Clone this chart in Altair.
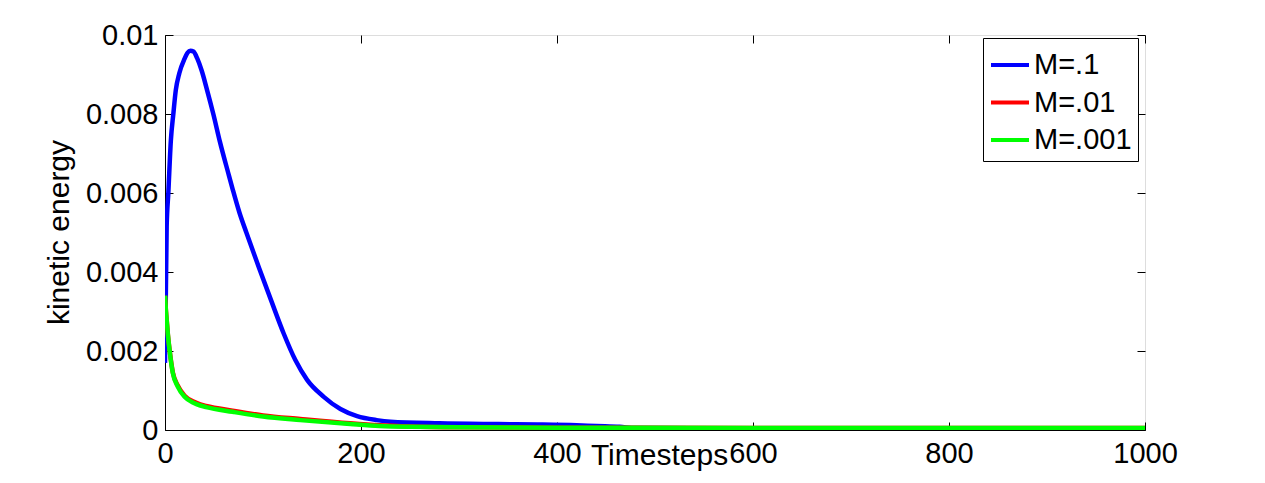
import altair as alt
import pandas as pd

# ---- data ----
t_blue = [0, 1.7, 3.4, 6, 8.5, 11, 14.6, 20, 23, 26, 29, 33, 37.4, 43, 49.3, 56, 64.6, 69,
          76, 83, 96, 108, 121, 133, 145, 162, 179, 196, 216, 230, 280, 340, 380, 420,
          440, 464, 480, 600, 800, 1000]
v_blue = [0.0017, 0.00515, 0.0060, 0.00734, 0.0080, 0.0086, 0.00903, 0.0094, 0.00955,
          0.0096, 0.00958, 0.0094, 0.0091, 0.0086, 0.0080, 0.0073, 0.0065, 0.0061,
          0.0055, 0.0050, 0.0041, 0.0033, 0.00245, 0.00177, 0.00127, 0.00084, 0.00053,
          0.00035, 0.00025, 0.00021, 0.00017, 0.00015, 0.00014, 0.00012, 0.0001, 0.00008,
          0.00005, 0.00004, 0.00004, 0.00004]

t_green = [0, 1, 2, 3, 5, 8, 13, 20, 29, 36, 42, 69, 100, 138, 189, 219, 250, 300, 400,
           600, 1000]
v_green = [0.0034, 0.0030, 0.0027, 0.0024, 0.00195, 0.00144, 0.0011, 0.00084, 0.00069,
           0.00062, 0.00058, 0.00046, 0.00034, 0.00025, 0.00015, 0.0001, 0.00008,
           0.00007, 0.00006, 0.00005, 0.00005]

t_red = [0, 1, 2, 3, 5, 8, 13, 20, 29, 36, 42, 69, 100, 138, 189, 219, 250, 300, 400,
         600, 1000]
v_red = [0.0034, 0.0030, 0.0027, 0.0024, 0.00196, 0.00146, 0.00113, 0.00087, 0.00072,
         0.00065, 0.00061, 0.00049, 0.00037, 0.00028, 0.00017, 0.00012, 0.00009,
         0.00007, 0.00006, 0.00005, 0.00005]

series = ["M=.1", "M=.01", "M=.001"]
colors = ["#0000ff", "#ff0000", "#00ff00"]
x_ticks = [0, 200, 400, 600, 800, 1000]
y_ticks = [0, 0.002, 0.004, 0.006, 0.008, 0.01]

rows = []
for name, ts, vs in [(series[0], t_blue, v_blue), (series[1], t_red, v_red),
                     (series[2], t_green, v_green)]:
    for i, (t, v) in enumerate(zip(ts, vs)):
        rows.append({"t": t, "v": v, "M": name, "i": i})
df = pd.DataFrame(rows)

W, H = 980, 395
FONT = "Liberation Sans"

xscale = alt.Scale(domain=[0, 1000], nice=False, zero=False)
yscale = alt.Scale(domain=[0, 0.01], nice=False)

base = alt.Chart(df)

lines = base.mark_line(strokeWidth=4.5, clip=True, interpolate="monotone").encode(
    x=alt.X("t:Q", scale=xscale, axis=alt.Axis(
        values=x_ticks, format="d", ticks=False, tickSize=0, labelPadding=9, grid=False,
        domain=True, domainColor="black", labelFontSize=29, labelColor="black",
        labelFont=FONT, title="Timesteps", titleFontSize=30, titleFont=FONT,
        titleFontWeight="normal", titleColor="black", titleX=494, titleY=34,
        titleAlign="center", titleBaseline="alphabetic", labelFlush=False)),
    y=alt.Y("v:Q", scale=yscale, axis=alt.Axis(
        values=y_ticks, format=".3~f", ticks=False, tickSize=0, labelPadding=7,
        grid=False, domain=True, domainColor="black", labelFontSize=29,
        labelColor="black", labelFont=FONT, title="kinetic energy", titleFontSize=30,
        titleFont=FONT, titleFontWeight="normal", titleColor="black", titleX=-97,
        titleY=197, titleAngle=270, titleAlign="center", titleBaseline="alphabetic")),
    color=alt.Color("M:N", scale=alt.Scale(domain=series, range=colors), legend=alt.Legend(
        title=None, orient="none", legendX=818, legendY=3, fillColor="white",
        strokeColor="black", padding=6, symbolType="stroke", symbolStrokeWidth=4,
        symbolSize=1444, labelFontSize=29, labelFont=FONT, labelColor="black",
        labelOffset=3, rowPadding=1.5)),
    order="i:Q",
)

tick_a = base.mark_line(opacity=0).encode(
    x=alt.X("t:Q", scale=xscale, axis=alt.Axis(
        orient="top", offset=-H, values=x_ticks, labels=False, domain=False,
        grid=False, title=None, tickSize=8, tickColor="black")),
    y=alt.Y("v:Q", scale=yscale, axis=alt.Axis(
        orient="right", offset=-W, values=y_ticks, labels=False, domain=False,
        grid=False, title=None, tickSize=8, tickColor="black")),
)

tick_b = base.mark_line(opacity=0).encode(
    x=alt.X("t:Q", scale=xscale, axis=alt.Axis(
        orient="bottom", offset=-H, values=x_ticks, labels=False, domain=False,
        grid=False, title=None, tickSize=8, tickColor="black")),
    y=alt.Y("v:Q", scale=yscale, axis=alt.Axis(
        orient="left", offset=-W, values=y_ticks, labels=False, domain=False,
        grid=False, title=None, tickSize=8, tickColor="black")),
)

chart = alt.layer(lines, tick_a, tick_b).resolve_axis(
    x="independent", y="independent"
).properties(
    width=W, height=H,
    autosize=alt.AutoSizeParams(type="none"),
    padding={"left": 157, "top": 27, "right": 100, "bottom": 45},
).configure_view(stroke="black", strokeWidth=1).configure(background="white")

chart.save("out.html", embed_options={"renderer": "svg", "actions": False})
